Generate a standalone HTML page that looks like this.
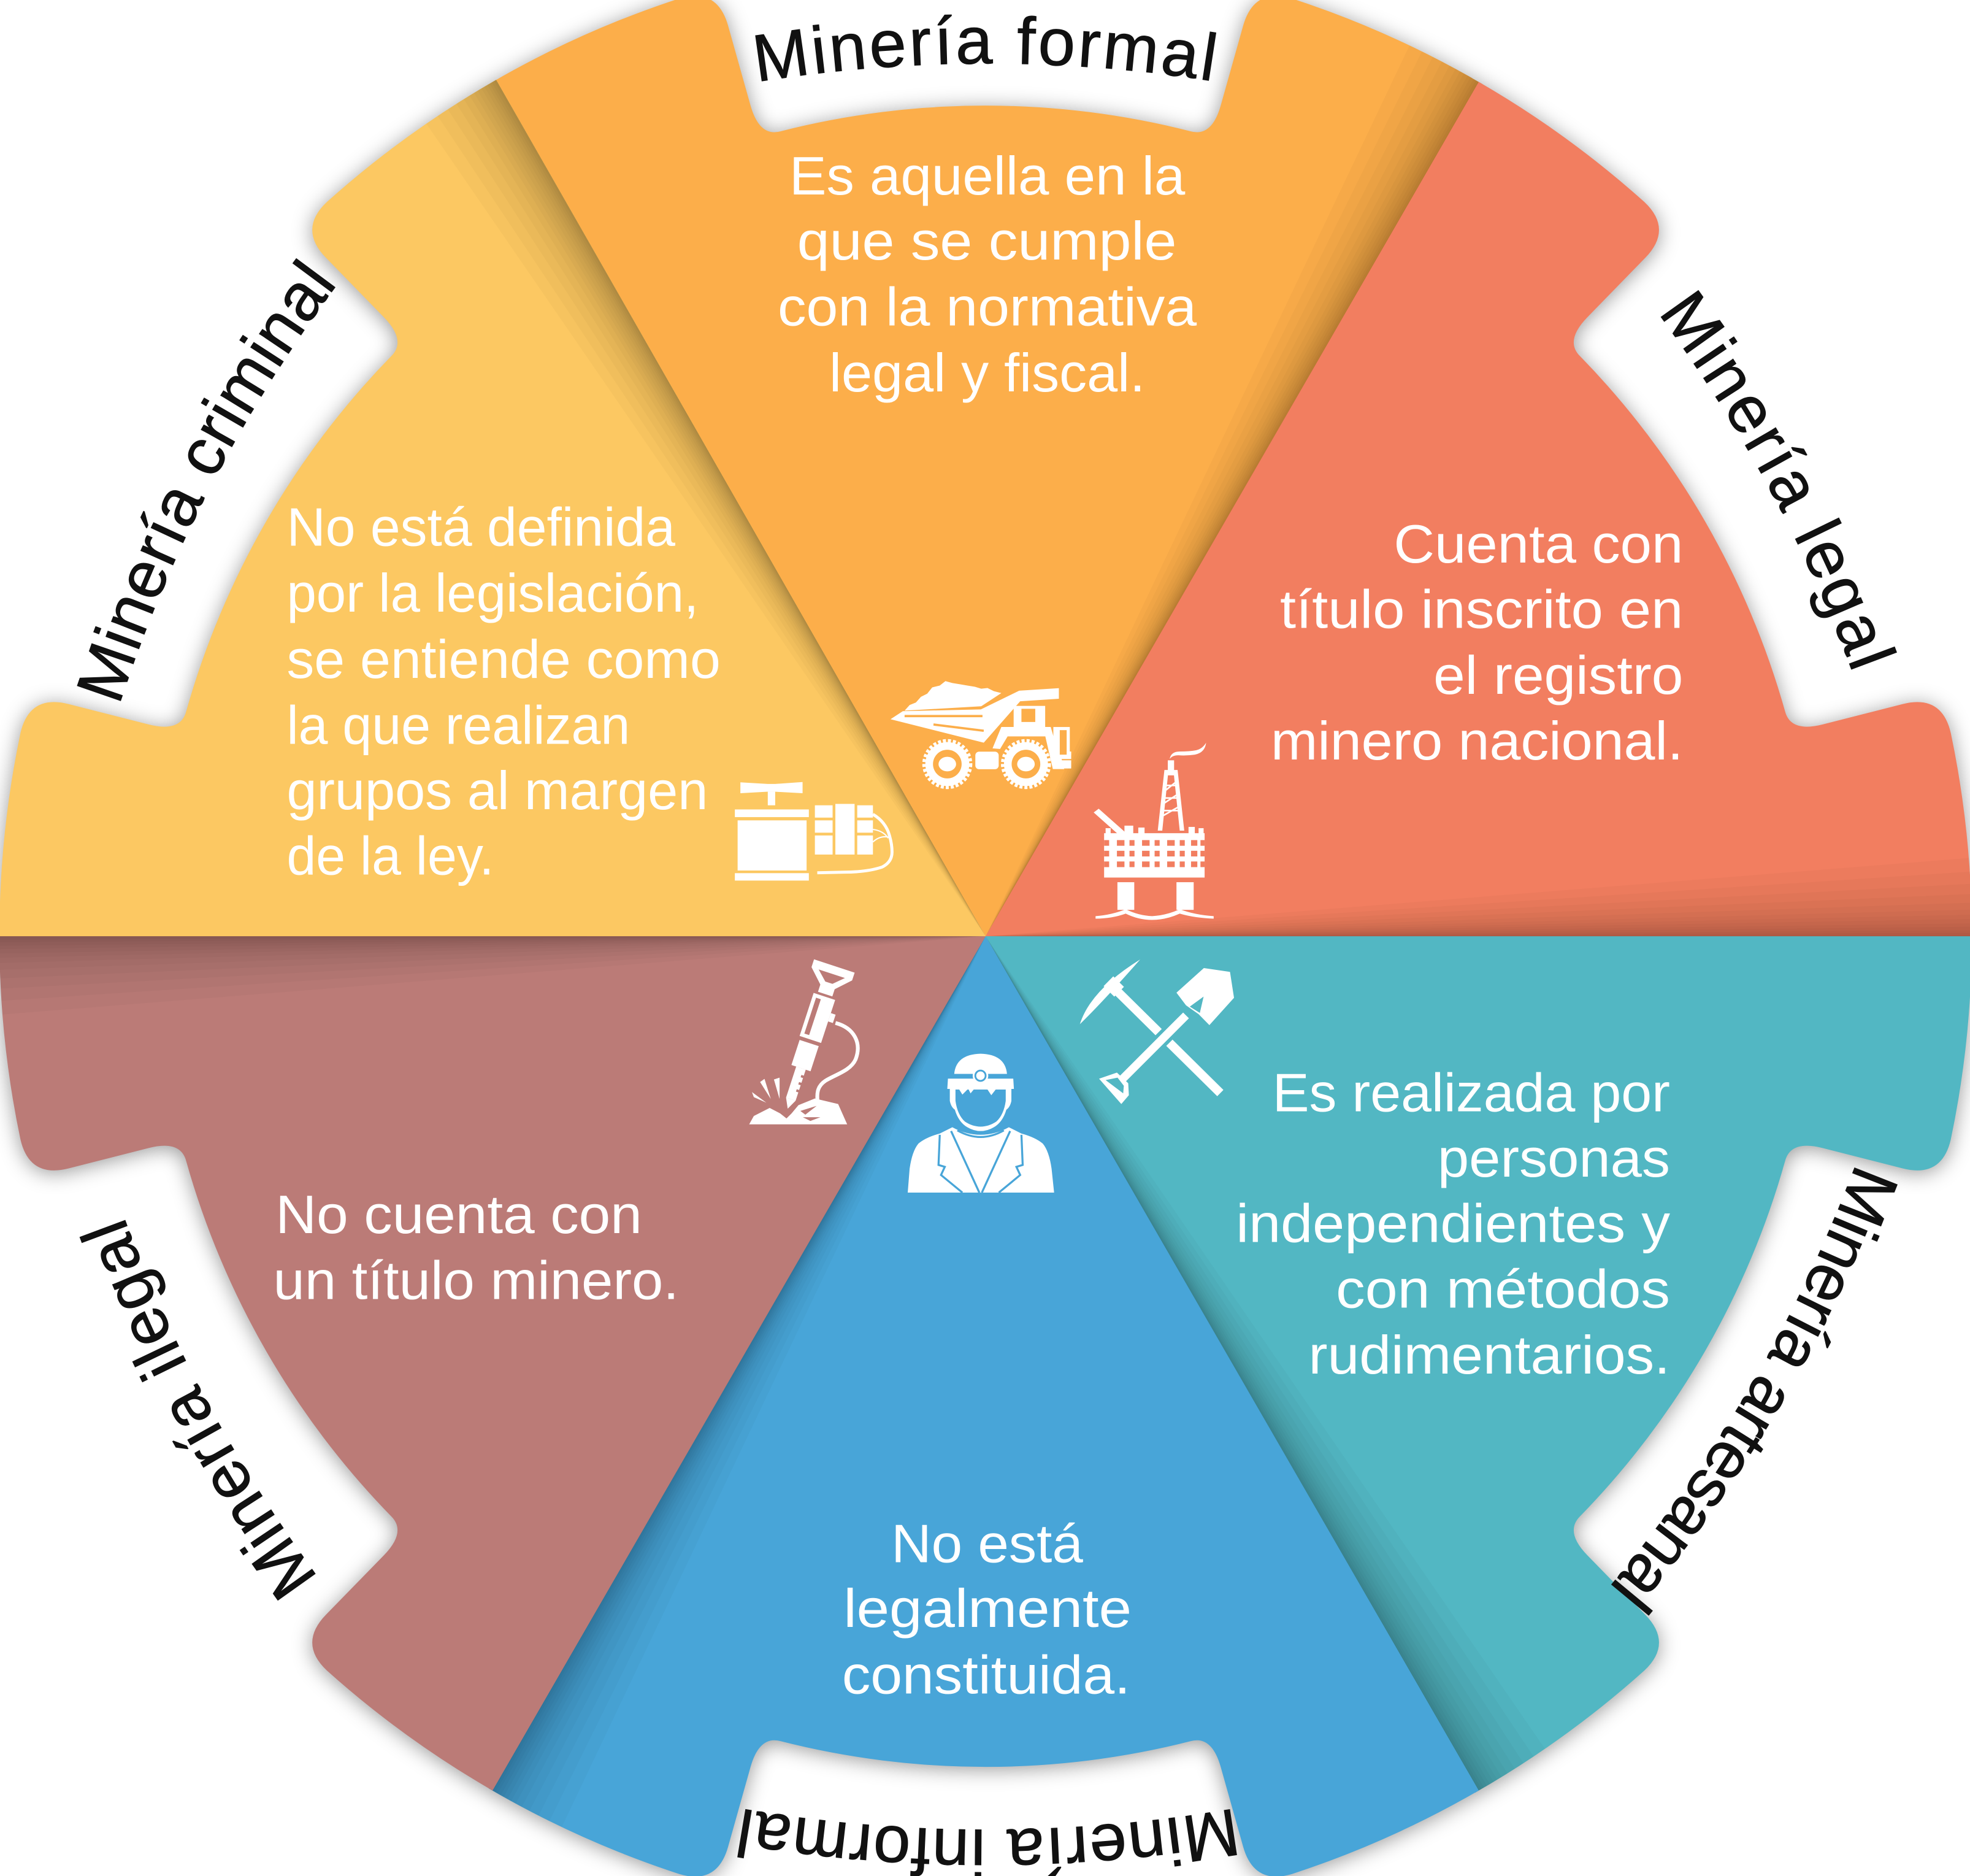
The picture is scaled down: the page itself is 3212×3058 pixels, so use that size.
<!DOCTYPE html>
<html>
<head>
<meta charset="utf-8">
<style>
html,body{margin:0;padding:0;background:#ffffff;overflow:hidden;}
svg{display:block;}
.b{font-family:"Liberation Sans",sans-serif;font-size:43px;fill:#ffffff;}
.l{font-family:"Liberation Sans",sans-serif;font-size:53px;fill:#111111;stroke:#111111;stroke-width:0.5px;}
</style>
</head>
<body>
<svg xmlns="http://www.w3.org/2000/svg" width="3212" height="3058" viewBox="0 0 1568 1492.8">
<defs>
  <path id="seg" d="M0,0 L-392.5,-679.8 A785,785 0 0 1 -243.9,-746.2 Q-213.7,-755.3 -205,-724.6 L-187.1,-661 Q-180,-636 -163.3,-640.5 A661,661 0 0 1 163.3,-640.5 Q180,-636 187.1,-661 L205,-724.6 Q213.7,-755.3 243.9,-746.2 A785,785 0 0 1 395.5,-678.1 Z"/>
  <clipPath id="sc"><use href="#seg"/></clipPath>
  <g id="sh" fill="#000" fill-opacity="0.022">
    <path d="M0,0 L403,-691.1 L401.2,-692.1 Z"/>
    <path d="M0,0 L403,-691.1 L399.4,-693.2 Z"/>
    <path d="M0,0 L403,-691.1 L397.6,-694.2 Z"/>
    <path d="M0,0 L403,-691.1 L395.8,-695.3 Z"/>
    <path d="M0,0 L403,-691.1 L393.3,-696.6 Z"/>
    <path d="M0,0 L403,-691.1 L390.9,-698 Z"/>
    <path d="M0,0 L403,-691.1 L387.8,-699.7 Z"/>
    <path d="M0,0 L403,-691.1 L384.8,-701.4 Z"/>
    <path d="M0,0 L403,-691.1 L381.1,-703.4 Z"/>
    <path d="M0,0 L403,-691.1 L376.2,-706 Z"/>
    <path d="M0,0 L403,-691.1 L370,-709.3 Z"/>
    <path d="M0,0 L403,-691.1 L362.6,-713.1 Z"/>
    <path d="M0,0 L403,-691.1 L353.8,-717.5 Z"/>
    <path d="M0,0 L403,-691.1 L343.8,-722.4 Z"/>
  </g>
  <filter id="ds" x="-5%" y="-5%" width="110%" height="110%" color-interpolation-filters="sRGB">
    <feGaussianBlur in="SourceAlpha" stdDeviation="8"/>
    <feOffset dx="0" dy="2" result="bl"/>
    <feFlood flood-color="#000" flood-opacity="0.4"/>
    <feComposite in2="bl" operator="in"/>
    <feMerge><feMergeNode/><feMergeNode in="SourceGraphic"/></feMerge>
  </filter>
  <path id="lp" d="M-486.4,107.8 A1151,1151 0 0 1 486.4,107.8"/>
</defs>

<rect x="0" y="0" width="1568" height="1492.8" fill="#ffffff"/>

<!-- Wheel segments -->
<g filter="url(#ds)">
  <g transform="translate(784.5,745)">
    <g transform="rotate(0)"><use href="#seg" fill="#FCAE4A"/><use href="#sh" clip-path="url(#sc)"/></g>
    <g transform="rotate(60)"><use href="#seg" fill="#F27E60"/><use href="#sh" clip-path="url(#sc)"/></g>
    <g transform="rotate(120)"><use href="#seg" fill="#52B7C3"/><use href="#sh" clip-path="url(#sc)"/></g>
    <g transform="rotate(180)"><use href="#seg" fill="#48A5D8"/><use href="#sh" clip-path="url(#sc)"/></g>
    <g transform="rotate(240)"><use href="#seg" fill="#BB7B77"/><use href="#sh" clip-path="url(#sc)"/></g>
    <g transform="rotate(300)"><use href="#seg" fill="#FCC862"/><use href="#sh" clip-path="url(#sc)"/></g>
  </g>
</g>

<!-- Curved labels -->
<g transform="translate(784.8,50.5) rotate(-0.06)"><text class="l" text-anchor="middle" letter-spacing="2"><textPath href="#lp" startOffset="50%">Minería formal</textPath></text></g>
<g transform="translate(1407.8,387.7) rotate(61.6)"><text class="l" text-anchor="middle" letter-spacing="2"><textPath href="#lp" startOffset="50%">Minería legal</textPath></text></g>
<g transform="translate(1393.7,1102.4) rotate(120.2)"><text class="l" text-anchor="middle" letter-spacing="-1"><textPath href="#lp" startOffset="50%">Minería artesanal</textPath></text></g>
<g transform="translate(786,1456) rotate(180)"><text class="l" text-anchor="middle" letter-spacing="1"><textPath href="#lp" startOffset="50%">Minería informal</textPath></text></g>
<g transform="translate(165.5,1116.8) rotate(-118.3)"><text class="l" text-anchor="middle" letter-spacing="1"><textPath href="#lp" startOffset="50%">Minería ilegal</textPath></text></g>
<g transform="translate(168,386.4) rotate(-62.6)"><text class="l" text-anchor="middle" letter-spacing="0.4"><textPath href="#lp" startOffset="50%">Minería criminal</textPath></text></g>

<!-- Body text: orange -->
<text class="b" x="628.3" y="154.7" textLength="315" lengthAdjust="spacingAndGlyphs">Es aquella en la</text>
<text class="b" x="634.5" y="206.6" textLength="302" lengthAdjust="spacingAndGlyphs">que se cumple</text>
<text class="b" x="619" y="259" textLength="333.5" lengthAdjust="spacingAndGlyphs">con la normativa</text>
<text class="b" x="660" y="311.5" textLength="251.5" lengthAdjust="spacingAndGlyphs">legal y fiscal.</text>

<!-- salmon -->
<text class="b" x="1109.3" y="447.7" textLength="230.4" lengthAdjust="spacingAndGlyphs">Cuenta con</text>
<text class="b" x="1018.8" y="499.7" textLength="320.9" lengthAdjust="spacingAndGlyphs">título inscrito en</text>
<text class="b" x="1140.9" y="552" textLength="198.8" lengthAdjust="spacingAndGlyphs">el registro</text>
<text class="b" x="1011.5" y="604.4" textLength="328.2" lengthAdjust="spacingAndGlyphs">minero nacional.</text>

<!-- yellow -->
<text class="b" x="228.2" y="434.3" textLength="309.3" lengthAdjust="spacingAndGlyphs">No está definida</text>
<text class="b" x="228.2" y="486.6" textLength="327.9" lengthAdjust="spacingAndGlyphs">por la legislación,</text>
<text class="b" x="228.2" y="539.5" textLength="345.3" lengthAdjust="spacingAndGlyphs">se entiende como</text>
<text class="b" x="228.2" y="591.8" textLength="273.3" lengthAdjust="spacingAndGlyphs">la que realizan</text>
<text class="b" x="228.2" y="643.9" textLength="335.3" lengthAdjust="spacingAndGlyphs">grupos al margen</text>
<text class="b" x="228.2" y="695.8" textLength="165" lengthAdjust="spacingAndGlyphs">de la ley.</text>

<!-- rose -->
<text class="b" x="219.3" y="981.2" textLength="291.7" lengthAdjust="spacingAndGlyphs">No cuenta con</text>
<text class="b" x="217.5" y="1033.8" textLength="322.9" lengthAdjust="spacingAndGlyphs">un título minero.</text>

<!-- teal -->
<text class="b" x="1012.8" y="884.2" textLength="316.5" lengthAdjust="spacingAndGlyphs">Es realizada por</text>
<text class="b" x="1144.2" y="936.2" textLength="185.1" lengthAdjust="spacingAndGlyphs">personas</text>
<text class="b" x="983.8" y="988.2" textLength="345.5" lengthAdjust="spacingAndGlyphs">independientes y</text>
<text class="b" x="1063.3" y="1040.5" textLength="266" lengthAdjust="spacingAndGlyphs">con métodos</text>
<text class="b" x="1041.5" y="1092.9" textLength="287.8" lengthAdjust="spacingAndGlyphs">rudimentarios.</text>

<!-- blue -->
<text class="b" x="709.4" y="1243" textLength="152.6" lengthAdjust="spacingAndGlyphs">No está</text>
<text class="b" x="671.4" y="1294.7" textLength="229.3" lengthAdjust="spacingAndGlyphs">legalmente</text>
<text class="b" x="670.2" y="1347.6" textLength="229.5" lengthAdjust="spacingAndGlyphs">constituida.</text>

<!-- ICON: dump truck -->
<g fill="#ffffff">
  <path d="M708.8,572.3 L718.6,565.9 L780.7,564.5 L811.2,549.6 L842.8,547.6 L842.8,556 L812,558 L783,591 Z"/>
  <path d="M720,565.5 L724,561 L729,559 L733,554.5 L738,552 L742,547 L748,545.5 L752.5,542 L758,543.5 L764,544.5 L770,545.5 L776,546.5 L781,548 L786,547.5 L791,550 L797,551.5 L781,562 Z"/>
  <rect x="806.8" y="561.7" width="25.1" height="17.6"/>
  <path d="M790,595.5 L797,578.5 L836.3,578.5 L842,598 L852.6,598 L852.6,604 L845,604 L847,612 L838,612 L832,586 L802,586 L796,596 Z"/>
  <rect x="838.4" y="578.5" width="13.1" height="25.2"/>
  <rect x="841" y="605" width="11.6" height="6.5"/>
  <rect x="776.3" y="598.1" width="18.6" height="14" rx="3"/>
  <circle cx="754" cy="608" r="17.5"/>
  <circle cx="816.6" cy="608" r="17.5"/>
</g>
<g fill="none" stroke="#ffffff" stroke-width="2.6" stroke-dasharray="2.4 1.6">
  <circle cx="754" cy="608" r="18.6"/>
  <circle cx="816.6" cy="608" r="18.6"/>
</g>
<g fill="#FCAE4A">
  <rect x="813" y="564" width="11" height="10.5"/>
  <rect x="843.5" y="581" width="5.5" height="19.5"/>
  <circle cx="754" cy="608" r="11.4"/>
  <circle cx="816.6" cy="608" r="11.4"/>
</g>
<g fill="#ffffff">
  <ellipse cx="754" cy="608" rx="7" ry="5.8"/>
  <ellipse cx="816.6" cy="608" rx="7" ry="5.8"/>
</g>
<g stroke="#FCAE4A" stroke-width="1.8" fill="none">
  <path d="M720,569.8 L782,569.8"/>
  <path d="M743,576.5 L783,581.5"/>
</g>

<!-- ICON: oil platform -->
<g fill="#ffffff">
  <rect x="929.5" y="605" width="5" height="8"/>
  <polygon points="921.5,661 926.8,612.7 937.3,612.7 942.6,661 939,661 934.4,617 929.6,617 925.1,661"/>
  <path d="M931,604 Q932,598 939,598 Q947,598 952,597 Q957,596 960,591 Q959,599 951,600.5 Q944,601.5 938,601 Q933,601 931,604 Z"/>
  <path d="M870.5,646.5 L874.5,643.5 L897,663.5 L893,666.5 Z"/>
  <rect x="880" y="659" width="4" height="5"/>
  <rect x="895" y="657" width="7" height="7"/>
  <rect x="906" y="658.5" width="5" height="5.5"/>
  <rect x="946" y="658" width="5" height="6"/>
  <rect x="954" y="659" width="4" height="5"/>
  <rect x="878.8" y="663" width="80" height="35.3"/>
  <rect x="889.4" y="702" width="13.4" height="22"/>
  <rect x="936.4" y="702" width="13.7" height="22"/>
  <path d="M872,729 Q885,728 896,723.5 Q906,728.5 917,729 Q928,728.5 939,723.5 Q951,728 966,729 L966,731 Q951,730.5 939,727 Q928,732 917,732 Q906,732 896,727 Q885,731 872,731 Z"/>
</g>
<g fill="#F27E60">
  <rect x="878.8" y="668.5" width="4" height="4.5"/><rect x="889" y="668.5" width="6" height="4.5"/><rect x="899" y="668.5" width="4" height="4.5"/><rect x="909" y="668.5" width="6" height="4.5"/><rect x="919" y="668.5" width="4" height="4.5"/><rect x="929" y="668.5" width="6" height="4.5"/><rect x="939" y="668.5" width="4" height="4.5"/><rect x="948" y="668.5" width="5" height="4.5"/><rect x="955.5" y="668.5" width="3.3" height="4.5"/>
  <rect x="878.8" y="677" width="4" height="4.5"/><rect x="889" y="677" width="6" height="4.5"/><rect x="899" y="677" width="4" height="4.5"/><rect x="909" y="677" width="6" height="4.5"/><rect x="919" y="677" width="4" height="4.5"/><rect x="929" y="677" width="6" height="4.5"/><rect x="939" y="677" width="4" height="4.5"/><rect x="948" y="677" width="5" height="4.5"/><rect x="955.5" y="677" width="3.3" height="4.5"/>
  <rect x="878.8" y="685.5" width="4" height="4.5"/><rect x="889" y="685.5" width="6" height="4.5"/><rect x="899" y="685.5" width="4" height="4.5"/><rect x="909" y="685.5" width="6" height="4.5"/><rect x="919" y="685.5" width="4" height="4.5"/><rect x="929" y="685.5" width="6" height="4.5"/><rect x="939" y="685.5" width="4" height="4.5"/><rect x="948" y="685.5" width="5" height="4.5"/><rect x="955.5" y="685.5" width="3.3" height="4.5"/>
</g>
<g stroke="#ffffff" stroke-width="1.3">
  <line x1="924" y1="650" x2="940" y2="641"/>
  <line x1="925.2" y1="640" x2="939" y2="631"/>
  <line x1="926.3" y1="630" x2="937.6" y2="621"/>
  <line x1="924.5" y1="645" x2="940.5" y2="645"/>
  <line x1="925.6" y1="635" x2="939" y2="635"/>
  <line x1="926.7" y1="625" x2="938" y2="625"/>
</g>

<!-- ICON: pick and shovel -->
<g>
  <line x1="889" y1="788.5" x2="971.3" y2="869.8" stroke="#ffffff" stroke-width="7"/>
  <path d="M859.5,815 Q868,788 907.5,763.5 Q878,797 859.5,815 Z" fill="#ffffff"/>
  <polygon points="886.9,793.1 894.6,785.3 886.1,776.9 878.4,784.7" fill="#ffffff"/>
  <line x1="944" y1="808" x2="893" y2="859" stroke="#52B7C3" stroke-width="12"/>
  <line x1="944" y1="808" x2="893" y2="859" stroke="#ffffff" stroke-width="6.5"/>
  <polygon points="936.4,789.9 958.2,770.3 979,773.4 982.2,794 962.6,815.7 954,807 944,800" fill="#ffffff"/>
  <polygon points="947,801 958,793 955,806" fill="#52B7C3"/>
  <polygon points="874.8,858.4 889,853.5 898,862 898.5,871.5 892.5,878.5" fill="#ffffff"/>
  <polygon points="880,859.5 889.5,857.5 894.5,864 894,870" fill="#52B7C3"/>
</g>

<!-- ICON: miner -->
<g fill="#ffffff">
  <path d="M759.5,854.5 Q761,839 780.5,838.5 Q800,839 801.5,854.5 Z"/>
  <path d="M754.5,858.3 L806.5,858.3 L807,866.5 L754,866.5 Z"/>
  <circle cx="780.4" cy="856" r="6.2"/>
  <path d="M756,866 L756,876 Q757,881 760,883 Q763,893 770,897 Q775,900 780.5,900 Q786,900 791,897 Q798,893 801,883 Q804,881 805,876 L805,866 Z"/>
  <path d="M722.5,949 L724,930 Q726,916 731,910 Q737,905 748,902 L758,897 Q769,903 780.5,903 Q792,903 803,897 L813,902 Q824,905 830,910 Q835,916 837,930 L839,949 Z"/>
</g>
<circle cx="780.4" cy="856" r="4.1" fill="none" stroke="#48A5D8" stroke-width="1.4"/>
<path d="M760.5,867 L760.5,876 Q762,887 768,892.5 Q774,896.5 780.5,896.5 Q787,896.5 793,892.5 Q799,887 800.5,876 L800.5,867 Z" fill="#48A5D8"/>
<g fill="#ffffff">
  <polygon points="763.5,867 770,867 766,871"/>
  <polygon points="771,867 775,867 772.5,870"/>
  <polygon points="786,867 792.5,867 789,871.5"/>
</g>
<g fill="none" stroke="#48A5D8" stroke-width="1.6">
  <path d="M762,899.5 Q780.5,910 799,899.5"/>
  <path d="M757,900 L779.5,949"/>
  <path d="M804,900 L781.5,949"/>
  <path d="M748,903 L747,927 L752,928.5 L749,935 L766,949"/>
  <path d="M813,903 L814,927 L809,928.5 L812,935 L795,949"/>
</g>

<!-- ICON: jackhammer -->
<g transform="translate(663,772) rotate(18.1)">
  <polygon points="-17,-3.5 17,-3.5 17,3 6,14 6,20 -6,20 -6,14 -17,3" fill="#ffffff"/>
  <polygon points="-11,3 11,3 3,10.5 -3,10.5" fill="#BB7B77"/>
  <rect x="-9" y="22" width="18" height="36" fill="#ffffff"/>
  <rect x="-6" y="25" width="4" height="30" fill="#BB7B77"/>
  <rect x="9" y="33" width="4" height="7" fill="#ffffff"/>
  <rect x="-8" y="61" width="16" height="21" fill="#ffffff"/>
  <rect x="-4" y="82" width="8" height="26" fill="#ffffff"/>
  <rect x="2" y="87" width="2.5" height="2" fill="#BB7B77"/>
  <rect x="2" y="93" width="2.5" height="2" fill="#BB7B77"/>
  <rect x="2" y="99" width="2.5" height="2" fill="#BB7B77"/>
  <polygon points="-4,108 4,108 0,116" fill="#ffffff"/>
</g>
<path d="M665,814 C680,818 686,830 681,843 C677,852 665,855 657,860 C651,864 650,869 650.7,876" fill="none" stroke="#ffffff" stroke-width="3"/>
<polygon points="596.3,894.7 600,888 612.6,881.6 621,886 626,890 630,886 635.5,879.4 648.6,874.1 667.1,878.5 674.3,894.7" fill="#ffffff"/>
<g fill="#BB7B77">
  <polygon points="637,884 650,880 641,887"/>
  <polygon points="639,889 653,889 645,892"/>
</g>
<g fill="#ffffff">
  <polygon points="605,861 608.5,858.5 613.5,874.5"/>
  <polygon points="616,859 620.5,857.5 620.5,874.5"/>
  <polygon points="598.5,869 600,873 610,877.5"/>
</g>

<!-- ICON: dynamite -->
<g fill="#ffffff">
  <path d="M589.3,622.5 L611,623.8 L617,623.8 L638.8,622.3 L638.8,631.2 L617,630 L611,630 L589.3,631.2 Z"/>
  <rect x="611.1" y="630" width="5.9" height="10.8"/>
  <rect x="584.9" y="644.1" width="58.9" height="6.1"/>
  <rect x="587.1" y="652.8" width="54.9" height="39.9"/>
  <rect x="584.9" y="694.8" width="58.9" height="5.9"/>
  <rect x="648.6" y="640.8" width="14.1" height="9.8"/>
  <rect x="648.6" y="652.8" width="14.1" height="9.8"/>
  <rect x="648.6" y="664.8" width="14.1" height="15.2"/>
  <rect x="664.9" y="639.7" width="15.3" height="40.3"/>
  <rect x="682.3" y="640.8" width="12.5" height="9.8"/>
  <rect x="682.3" y="652.8" width="12.5" height="9.8"/>
  <rect x="682.3" y="664.8" width="12.5" height="15.2"/>
</g>
<path d="M694.8,648 Q705,654 708,665 Q710,672 710,678 Q710,686 702,690 Q690,694 672,694 L650.5,694.5" fill="none" stroke="#ffffff" stroke-width="2.4"/>
<path d="M694.8,660 Q703,661 707,667 M694.8,670 Q700,665 707,666" fill="none" stroke="#ffffff" stroke-width="1"/>
</svg>
</body>
</html>
